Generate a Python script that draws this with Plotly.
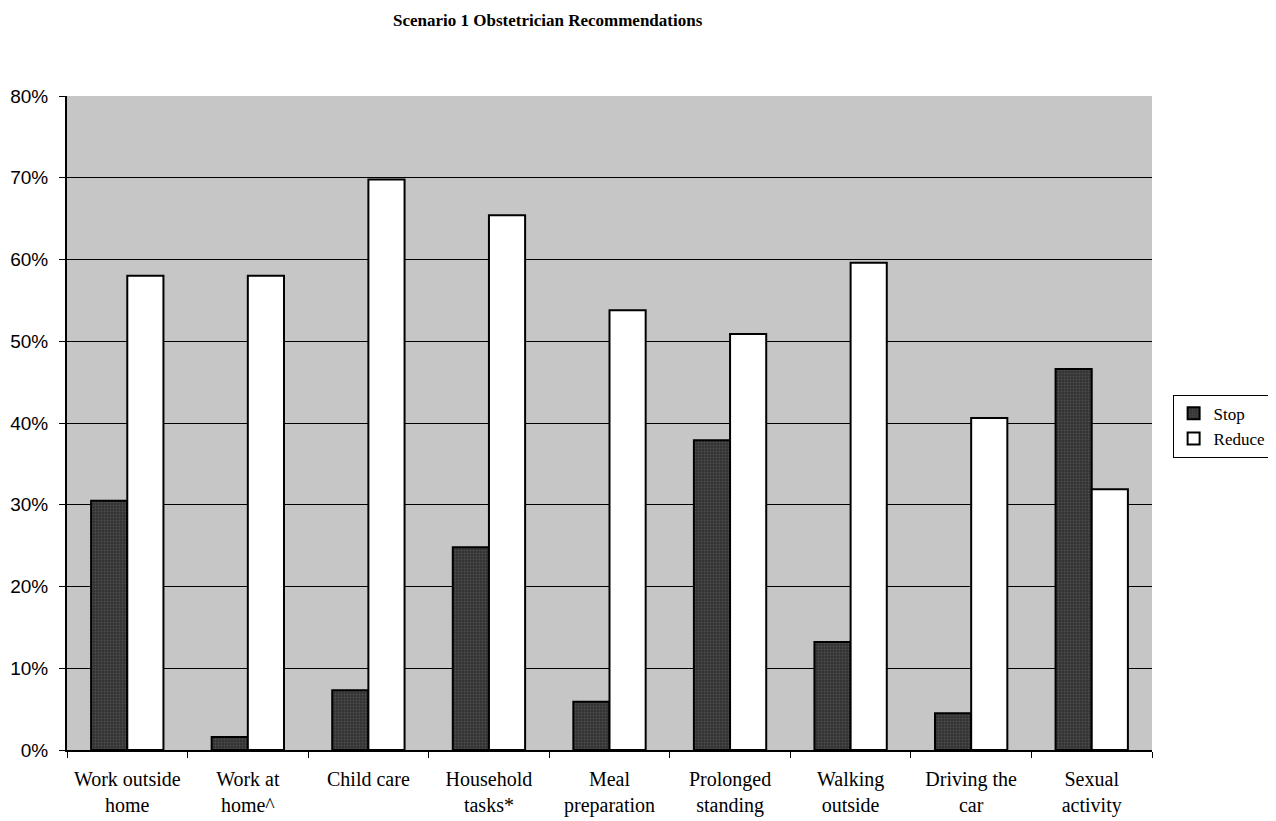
import plotly.graph_objects as go

categories = ["Work outside<br>home", "Work at<br>home^", "Child care", "Household<br>tasks*",
              "Meal<br>preparation", "Prolonged<br>standing", "Walking<br>outside",
              "Driving the<br>car", "Sexual<br>activity"]
stop = [30.5, 1.6, 7.3, 24.8, 5.9, 37.9, 13.2, 4.5, 46.6]
reduce = [58.0, 58.0, 69.8, 65.4, 53.8, 50.9, 59.6, 40.6, 31.9]
y_ticks = [0, 10, 20, 30, 40, 50, 60, 70, 80]
y_labels = [f"{v}%" for v in y_ticks]

fig = go.Figure()
fig.add_trace(go.Bar(name="Stop", x=categories, y=stop,
                     marker=dict(color="#3a3a3a", line=dict(color="black", width=2),
                                 pattern=dict(shape=".", fgcolor="#6a6a6a", bgcolor="#333333", size=3, solidity=0.3))))
fig.add_trace(go.Bar(name="Reduce", x=categories, y=reduce,
                     marker=dict(color="white", line=dict(color="black", width=2))))

fig.update_layout(
    width=1276, height=821,
    barmode="group", bargap=0.40, bargroupgap=0.0,
    paper_bgcolor="white", plot_bgcolor="#c6c6c6",
    margin=dict(l=59, r=132, t=88, b=79),
    showlegend=True,
    legend=dict(x=1.019, y=0.495, xanchor="left", yanchor="middle",
                bordercolor="black", borderwidth=1, bgcolor="white",
                font=dict(family="Liberation Serif", size=17, color="black"),
                tracegroupgap=0, itemwidth=30),
    annotations=[dict(text="<b>Scenario 1 Obstetrician Recommendations</b>", xref="paper", yref="paper",
                      x=0.443, y=1.0, yshift=76, xanchor="center", yanchor="middle", showarrow=False,
                      font=dict(family="Liberation Serif", size=17, color="black"))],
)
fig.update_xaxes(type="category", tickson="boundaries", ticks="outside", ticklen=6, tickcolor="black",
                 showline=True, linecolor="black", linewidth=2, mirror=False, ticklabelstandoff=10,
                 automargin=False,
                 tickfont=dict(family="Liberation Serif", size=20, color="black"), showgrid=False)
fig.update_yaxes(range=[0, 80], tickvals=y_ticks, ticktext=y_labels, ticks="outside", ticklen=6,
                 tickcolor="black", showline=True, linecolor="black", linewidth=2, ticklabelstandoff=7,
                 automargin=False,
                 showgrid=True, gridcolor="black", gridwidth=1, zeroline=False,
                 tickfont=dict(family="Liberation Sans", size=19, color="black"))

fig.write_html("out.html")
